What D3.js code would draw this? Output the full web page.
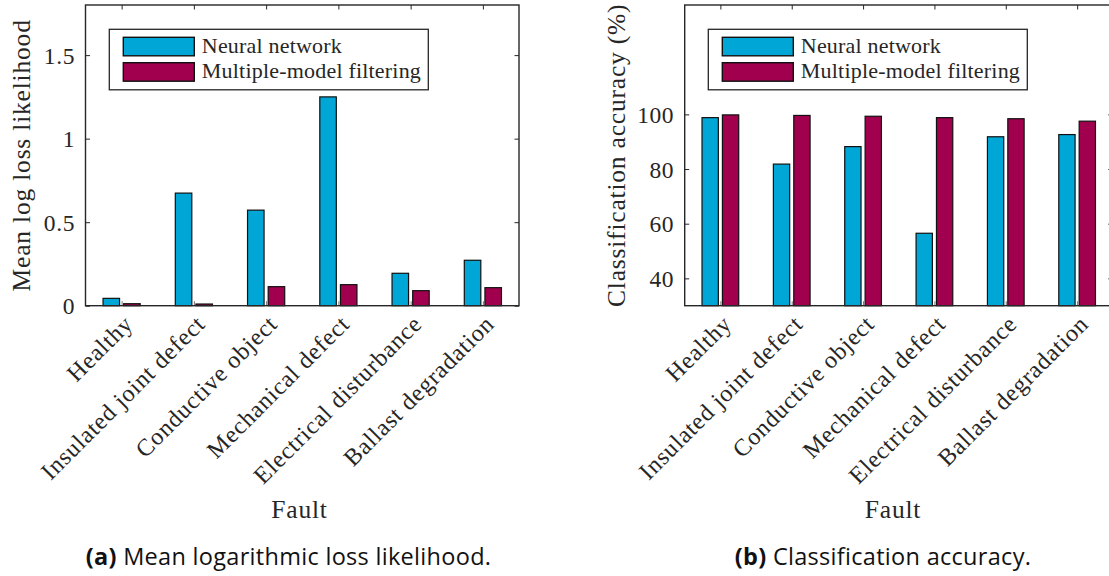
<!DOCTYPE html>
<html>
<head>
<meta charset="utf-8">
<script src="https://cdn.jsdelivr.net/npm/d3@7"></script>
<style>
  html, body { margin: 0; padding: 0; background: #fff; }
  svg { display: block; }
</style>
</head>
<body>
<svg id="fig" width="1109" height="576"></svg>
<script>
// Fault classes along the horizontal axis
const categories = ["Healthy", "Insulated joint defect", "Conductive object",
  "Mechanical defect", "Electrical disturbance", "Ballast degradation"];
const seriesNames = ["Neural network", "Multiple-model filtering"];

// (a) mean log loss likelihood
const lossNeural = [0.044, 0.674, 0.572, 1.25, 0.194, 0.272];
const lossMMF = [0.012, 0.010, 0.114, 0.126, 0.090, 0.108];
const lossTicks = [0, 0.5, 1, 1.5];
const lossTickLabels = ["0", "0.5", "1", "1.5"];

// (b) classification accuracy in percent
const accNeural = [98.8, 81.8, 88.2, 56.5, 91.8, 92.6];
const accMMF = [99.8, 99.6, 99.3, 98.8, 98.4, 97.5];
const accTicks = [40, 60, 80, 100];
const accTickLabels = ["40", "60", "80", "100"];

const colors = ["#00a6d6", "#a1004f"];
const ink = "#262626";
const serif = "'Liberation Serif', 'Times New Roman', serif";
const sans = "'Open Sans', 'Noto Sans', sans-serif";

const svg = d3.select("#fig");

function panel(opts) {
  const { left, right, top, bottom, domain, ticks, tickLabels, values, yTitle,
          yTitleX, legendX, faultX, caption, captionTag, captionX } = opts;
  const g = svg.append("g");

  const x = d3.scaleBand().domain(categories).range([left, right]);
  const bw = x.bandwidth();
  const xs = d3.scaleBand().domain(seriesNames)
    .range([-0.2857 * bw, 0.2857 * bw]).paddingInner(0.2).paddingOuter(0.1);
  const y = d3.scaleLinear().domain(domain).range([bottom, top]);

  // bars
  seriesNames.forEach((s, si) => {
    g.append("g").selectAll("rect")
      .data(values[si])
      .join("rect")
      .attr("x", (d, i) => x(categories[i]) + bw / 2 + xs(s))
      .attr("width", xs.bandwidth())
      .attr("y", d => y(d))
      .attr("height", d => y(domain[0]) - y(d))
      .attr("fill", colors[si])
      .attr("stroke", "#111")
      .attr("stroke-width", 1.2);
  });

  const tickLen = 4.5;
  const axisStyle = sel => {
    sel.select(".domain").remove();
    sel.selectAll(".tick line").attr("stroke", ink).attr("stroke-width", 1);
  };

  // inward ticks on all four sides
  const xCentre = d3.scalePoint().domain(categories).range([left + bw / 2, right - bw / 2]);
  g.append("g").attr("transform", `translate(0,${bottom})`)
    .call(d3.axisTop(xCentre).tickSize(tickLen).tickFormat(""))
    .call(axisStyle).selectAll(".tick line").attr("stroke", "#777");
  g.append("g").attr("transform", `translate(0,${top})`)
    .call(d3.axisBottom(xCentre).tickSize(tickLen).tickFormat(""))
    .call(axisStyle);
  g.append("g").attr("transform", `translate(${left},0)`)
    .call(d3.axisRight(y).tickValues(ticks).tickSize(tickLen).tickFormat(""))
    .call(axisStyle);
  g.append("g").attr("transform", `translate(${right},0)`)
    .call(d3.axisLeft(y).tickValues(ticks).tickSize(tickLen).tickFormat(""))
    .call(axisStyle);

  // y tick labels
  const yl = g.append("g").attr("transform", `translate(${left},0)`)
    .call(d3.axisLeft(y).tickValues(ticks).tickSize(0).tickPadding(10.5)
      .tickFormat((d, i) => tickLabels[i]));
  yl.select(".domain").remove();
  yl.selectAll("text").attr("font-family", serif).attr("font-size", 23.5)
    .attr("letter-spacing", 0.6)
    .attr("fill", ink).attr("dy", "0.34em");

  // axes box
  g.append("rect").attr("x", left).attr("y", top)
    .attr("width", right - left).attr("height", bottom - top)
    .attr("fill", "none").attr("stroke", ink).attr("stroke-width", 1.4);

  // rotated category labels
  g.append("g").selectAll("text")
    .data(categories)
    .join("text")
    .attr("transform", d => `translate(${x(d) + bw / 2 + 7},${bottom + 14}) rotate(-45)`)
    .attr("text-anchor", "end")
    .attr("dominant-baseline", "central")
    .attr("font-family", serif).attr("font-size", 24).attr("fill", ink)
    .attr("letter-spacing", 0.8)
    .text(d => d);

  // axis titles
  g.append("text")
    .attr("transform", `translate(${yTitleX},${(top + bottom) / 2}) rotate(-90)`)
    .attr("text-anchor", "middle")
    .attr("font-family", serif).attr("font-size", 25.5).attr("fill", ink)
    .attr("letter-spacing", 0.8)
    .text(yTitle);
  g.append("text")
    .attr("x", faultX).attr("y", 518)
    .attr("text-anchor", "middle")
    .attr("font-family", serif).attr("font-size", 25.5).attr("fill", ink)
    .attr("letter-spacing", 0.8)
    .text("Fault");

  // legend
  const lg = g.append("g").attr("transform", `translate(${legendX},29.3)`);
  lg.append("rect").attr("width", 319).attr("height", 60.5)
    .attr("fill", "#fff").attr("stroke", ink).attr("stroke-width", 1.3);
  seriesNames.forEach((s, si) => {
    lg.append("rect")
      .attr("x", 14).attr("y", 8 + si * 25.4)
      .attr("width", 71).attr("height", 18.5)
      .attr("fill", colors[si]).attr("stroke", "#111").attr("stroke-width", 1.4);
    lg.append("text")
      .attr("x", 92.5).attr("y", 23.5 + si * 25.4)
      .attr("font-family", serif).attr("font-size", 22).attr("fill", ink)
      .attr("letter-spacing", 0.2)
      .text(s);
  });

  // caption
  const cap = svg.append("text")
    .attr("x", captionX).attr("y", 565)
    .attr("text-anchor", "middle")
    .attr("font-family", sans).attr("font-size", 23.5).attr("fill", "#111")
    .attr("letter-spacing", 0.3);
  cap.append("tspan").attr("font-weight", "bold").text(captionTag);
  cap.append("tspan").text(" " + caption);
}

panel({
  left: 85.5, right: 519, top: 5, bottom: 305.7,
  domain: [0, 1.8], ticks: lossTicks, tickLabels: lossTickLabels,
  values: [lossNeural, lossMMF],
  yTitle: "Mean log loss likelihood", yTitleX: 29.5,
  legendX: 109.3, faultX: 299.5,
  captionTag: "(a)", caption: "Mean logarithmic loss likelihood.", captionX: 288.5
});

panel({
  left: 684.7, right: 1112.8, top: 5, bottom: 305.7,
  domain: [30, 140], ticks: accTicks, tickLabels: accTickLabels,
  values: [accNeural, accMMF],
  yTitle: "Classification accuracy (%)", yTitleX: 625,
  legendX: 708.3, faultX: 893,
  captionTag: "(b)", caption: "Classification accuracy.", captionX: 883
});
</script>
</body>
</html>
